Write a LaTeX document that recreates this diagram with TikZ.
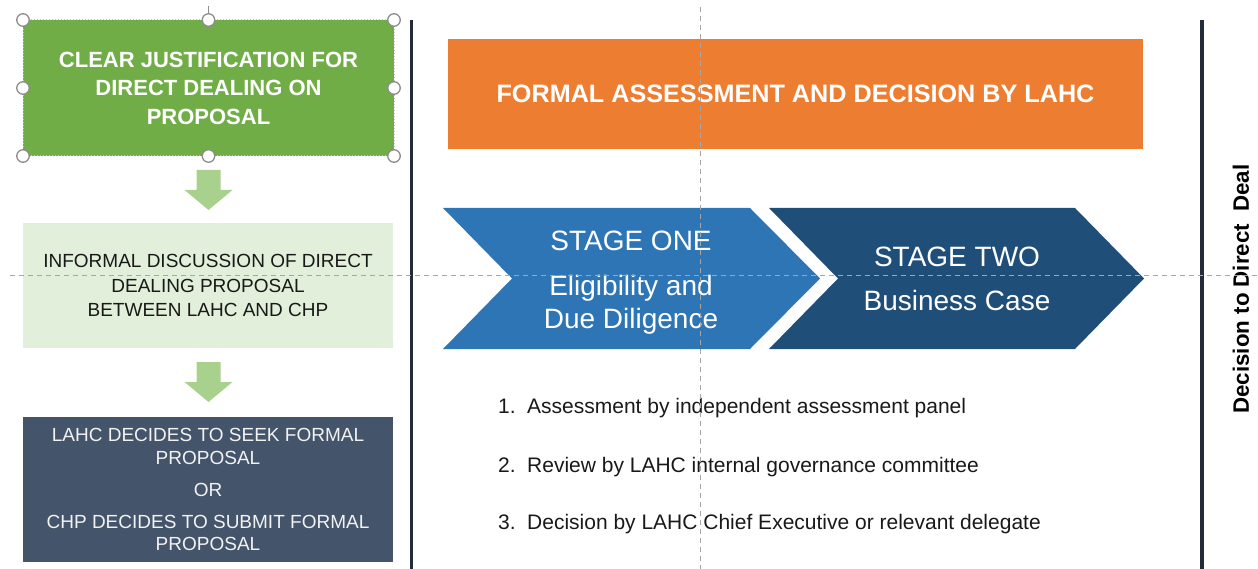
\documentclass[tikz,border=0pt]{standalone}
\usepackage{fontspec}
\setmainfont{Liberation Sans}
\definecolor{lahcgreen}{HTML}{70AD47}
\definecolor{arrowgreen}{HTML}{A9D18E}
\definecolor{palegreen}{HTML}{E2EFDA}
\definecolor{slate}{HTML}{44546A}
\definecolor{lahcorange}{HTML}{ED7D31}
\definecolor{stageblue}{HTML}{2E75B6}
\definecolor{stagenavy}{HTML}{1F4E79}
\definecolor{divider}{HTML}{242C39}
\definecolor{guidegray}{HTML}{A6A6A6}
\definecolor{handlegray}{HTML}{8C8C8C}
\begin{document}
\begin{tikzpicture}[x=1pt,y=-1pt,
  panel/.style={inner sep=0pt, outer sep=0pt, align=center},
  downarrow/.style={fill=arrowgreen, draw=none},
  stagetext/.style={text=white, anchor=base, inner sep=0pt,
    font=\fontsize{28}{33}\selectfont},
  listitem/.style={anchor=base west, inner sep=0pt, text=black!90,
    font=\fontsize{21}{25}\selectfont},
  divline/.style={draw=divider, line width=3.5pt},
  guide/.style={draw=guidegray, line width=1pt, dash pattern=on 5pt off 4pt},
  handle/.style={circle, draw=handlegray, fill=white, line width=1.3pt,
    minimum size=12.5pt, inner sep=0pt},
]
\useasboundingbox (0,0) rectangle (1258,569);

% ---- left column: the three boxes ----
\node[panel, fill=lahcgreen, minimum width=371pt, minimum height=136pt,
      text=white, font=\bfseries\fontsize{22}{28.5}\selectfont]
  (justify) at (208.5,88)
  {CLEAR JUSTIFICATION FOR\\DIRECT DEALING ON\\PROPOSAL};
\node[panel, fill=palegreen, minimum width=370pt, minimum height=125pt,
      text=black!90, font=\fontsize{19}{24.5}\selectfont]
  (informal) at (208,285.5)
  {INFORMAL DISCUSSION OF DIRECT\\DEALING PROPOSAL\\BETWEEN LAHC AND CHP};
\node[panel, fill=slate, minimum width=370pt, minimum height=145pt,
      text=white!95!black, font=\fontsize{19}{22.5}\selectfont]
  (decides) at (208,489.5)
  {LAHC DECIDES TO SEEK FORMAL\\PROPOSAL\\[9.5pt]OR\\[9.5pt]CHP DECIDES TO SUBMIT FORMAL\\PROPOSAL};

% selection frame and handles on the first box
\draw[draw=gray!45, dotted, line width=1pt] (justify.north west) rectangle (justify.south east);
\draw[draw=handlegray, line width=1pt] (justify.north) ++(0,-14) coordinate (rotstub) -- (justify.north);
\foreach \a in {north west,north,north east,west,east,south west,south,south east}
  \node[handle] (h-\a) at (justify.\a) {};

% block arrows between the boxes
\fill[downarrow] (196.5,170) -- (220.5,170) -- (220.5,190) -- (232.5,190)
  -- (208.5,210) -- (184.5,190) -- (196.5,190) -- cycle;
\fill[downarrow] (196.5,362) -- (220.5,362) -- (220.5,382) -- (232.5,382)
  -- (208.5,402) -- (184.5,382) -- (196.5,382) -- cycle;

% ---- column dividers ----
\coordinate (divAtop) at (411.5,20);
\coordinate (divAbot) at (411.5,569);
\coordinate (divBtop) at (1202,20);
\coordinate (divBbot) at (1202,569);
\draw[divline] (divAtop) -- (divAbot);
\draw[divline] (divBtop) -- (divBbot);

% ---- formal assessment banner ----
\node[panel, fill=lahcorange, minimum width=695pt, minimum height=110pt,
      text=white, font=\bfseries\fontsize{25.2}{29}\selectfont]
  (formal) at (795.5,94) {FORMAL ASSESSMENT AND DECISION BY LAHC};

% ---- two stage chevrons ----
\fill[stageblue] (443,208) -- (750,208) -- (820,278.5) -- (750,349)
  -- (443,349) -- (512,278.5) -- cycle;
\fill[stagenavy] (769,208) -- (1075,208) -- (1144,278.5) -- (1075,349)
  -- (769,349) -- (838,278.5) -- cycle;
\node[stagetext] (s1a) at (631,251) {STAGE ONE};
\node[stagetext] (s1b) at (631,295) {Eligibility and};
\node[stagetext] (s1c) at (631,328) {Due Diligence};
\node[stagetext] (s2a) at (957,267) {STAGE TWO};
\node[stagetext] (s2b) at (957,310) {Business Case};

% ---- numbered steps ----
\node[listitem] (step1) at (498,413)
  {\makebox[29pt][l]{1.}Assessment by independent assessment panel};
\node[listitem] (step2) at (498,472)
  {\makebox[29pt][l]{2.}Review by LAHC internal governance committee};
\node[listitem] (step3) at (498,529)
  {\makebox[29pt][l]{3.}Decision by LAHC Chief Executive or relevant delegate};

% ---- outcome label ----
\node[rotate=90, inner sep=0pt, text=black,
      font=\bfseries\fontsize{22.3}{27}\selectfont]
  (outcome) at (1241,289) {Decision to Direct\ \ Deal};

% ---- layout guides ----
\coordinate (gHl) at (10,276);
\coordinate (gHr) at (1258,276);
\coordinate (gVt) at (700,7);
\coordinate (gVb) at (700,569);
\draw[guide] (gHl) -- (gHr);
\draw[guide] (gVt) -- (gVb);
\end{tikzpicture}
\end{document}
